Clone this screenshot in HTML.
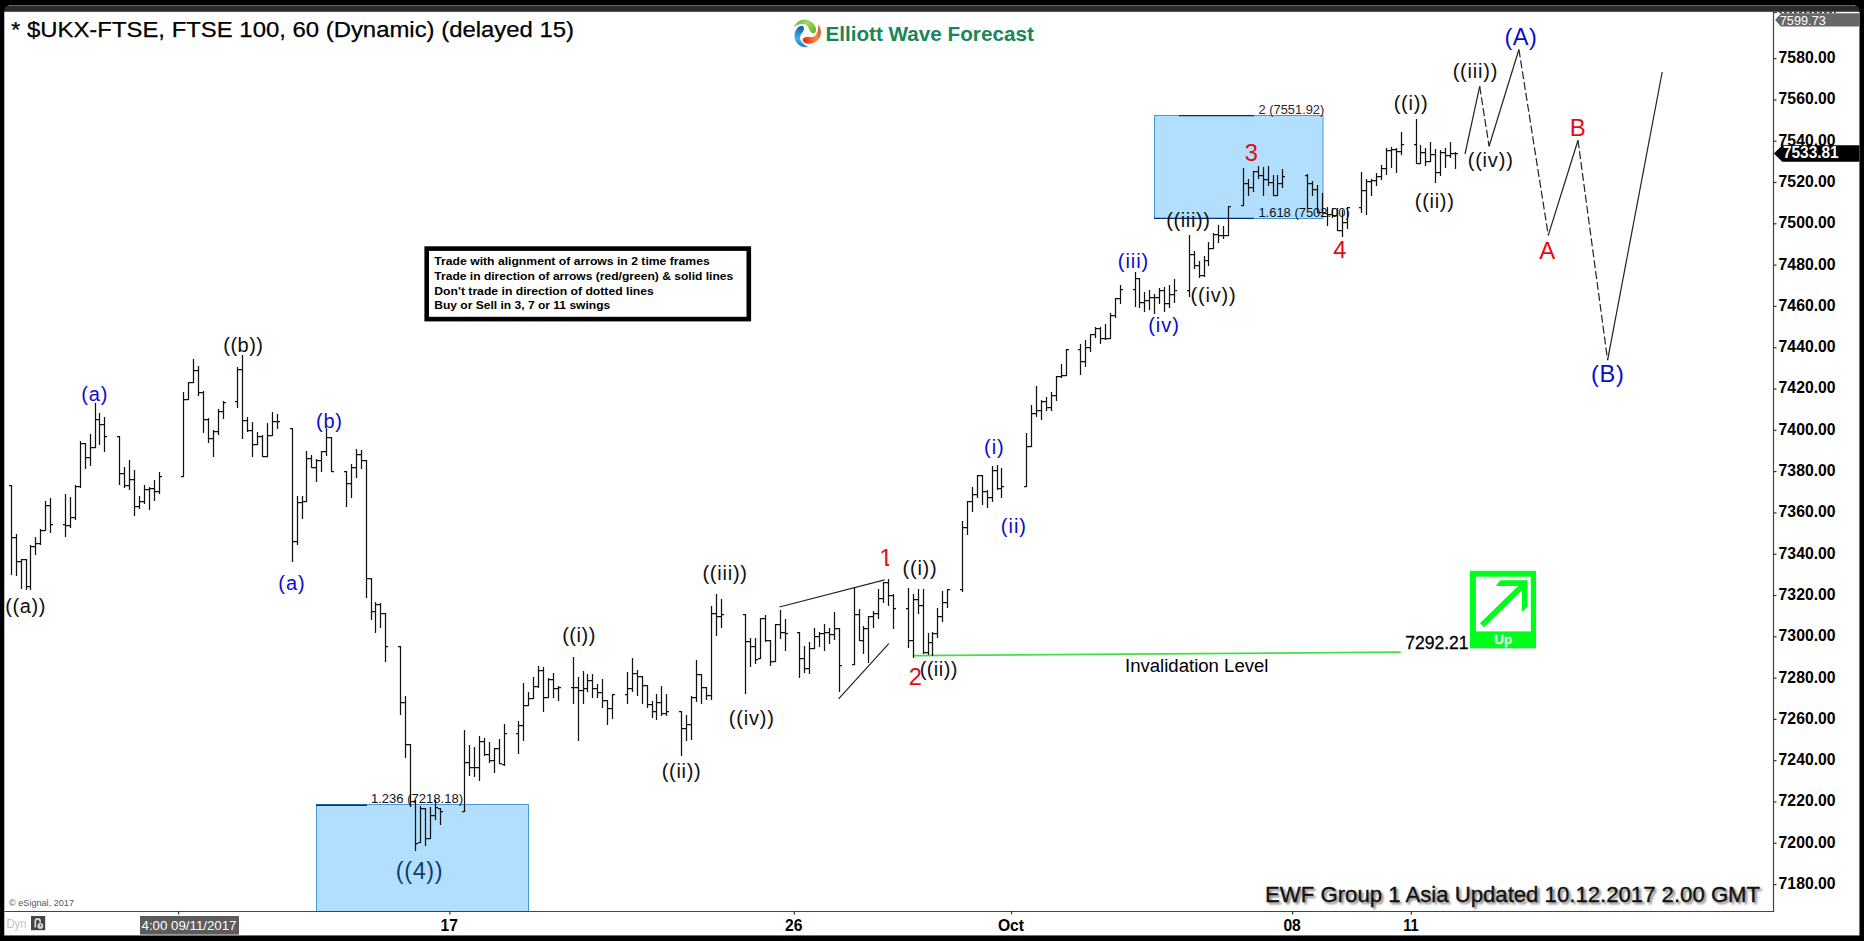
<!DOCTYPE html>
<html><head><meta charset="utf-8"><title>UKX-FTSE Elliott Wave chart</title>
<style>
html,body{margin:0;padding:0;background:#000;overflow:hidden}
svg{display:block;font-family:"Liberation Sans", sans-serif}
</style></head><body>
<svg width="1864" height="941" viewBox="0 0 1864 941">
<rect x="0" y="0" width="1864" height="941" fill="#000"/>
<path d="M4.3 935.4 V10.5 a5.5 5.5 0 0 1 5.5 -5.5 H1854 a5.5 5.5 0 0 1 5.5 5.5 V935.4 Z" fill="#2b2b2b"/>
<path d="M8.5 5.6 H1855.5" stroke="#6a6a6a" stroke-width="1" fill="none"/>
<rect x="4.3" y="11.8" width="1855.1" height="923.6" fill="#fff"/>
<rect x="1154.5" y="115.5" width="168.5" height="103" fill="#b3dffe" stroke="#4a97d6" stroke-width="1"/>
<rect x="316.5" y="804.5" width="212" height="107" fill="#b3dffe" stroke="#4a97d6" stroke-width="1"/>
<path d="M316 805.3 H367" stroke="#003070" stroke-width="1.4"/>
<path d="M1179 115.6 H1254" stroke="#003070" stroke-width="1.4"/>
<path d="M1154 218.3 H1254" stroke="#003070" stroke-width="1.2"/>
<path d="M1773.5 12 V912" stroke="#444" stroke-width="1.2" fill="none"/>
<path d="M4.3 911.5 H1774.1" stroke="#444" stroke-width="1.1" fill="none"/>
<path d="M1773.5 58.6 h3" stroke="#333" stroke-width="1.2"/>
<text x="1778.6" y="63.0" font-size="16.8" fill="#000" font-weight="bold" textLength="57" lengthAdjust="spacingAndGlyphs" >7580.00</text>
<path d="M1773.5 99.9 h3" stroke="#333" stroke-width="1.2"/>
<text x="1778.6" y="104.3" font-size="16.8" fill="#000" font-weight="bold" textLength="57" lengthAdjust="spacingAndGlyphs" >7560.00</text>
<path d="M1773.5 141.2 h3" stroke="#333" stroke-width="1.2"/>
<text x="1778.6" y="145.6" font-size="16.8" fill="#000" font-weight="bold" textLength="57" lengthAdjust="spacingAndGlyphs" >7540.00</text>
<path d="M1773.5 182.5 h3" stroke="#333" stroke-width="1.2"/>
<text x="1778.6" y="186.9" font-size="16.8" fill="#000" font-weight="bold" textLength="57" lengthAdjust="spacingAndGlyphs" >7520.00</text>
<path d="M1773.5 223.8 h3" stroke="#333" stroke-width="1.2"/>
<text x="1778.6" y="228.2" font-size="16.8" fill="#000" font-weight="bold" textLength="57" lengthAdjust="spacingAndGlyphs" >7500.00</text>
<path d="M1773.5 265.1 h3" stroke="#333" stroke-width="1.2"/>
<text x="1778.6" y="269.5" font-size="16.8" fill="#000" font-weight="bold" textLength="57" lengthAdjust="spacingAndGlyphs" >7480.00</text>
<path d="M1773.5 306.4 h3" stroke="#333" stroke-width="1.2"/>
<text x="1778.6" y="310.8" font-size="16.8" fill="#000" font-weight="bold" textLength="57" lengthAdjust="spacingAndGlyphs" >7460.00</text>
<path d="M1773.5 347.7 h3" stroke="#333" stroke-width="1.2"/>
<text x="1778.6" y="352.1" font-size="16.8" fill="#000" font-weight="bold" textLength="57" lengthAdjust="spacingAndGlyphs" >7440.00</text>
<path d="M1773.5 389.0 h3" stroke="#333" stroke-width="1.2"/>
<text x="1778.6" y="393.4" font-size="16.8" fill="#000" font-weight="bold" textLength="57" lengthAdjust="spacingAndGlyphs" >7420.00</text>
<path d="M1773.5 430.3 h3" stroke="#333" stroke-width="1.2"/>
<text x="1778.6" y="434.7" font-size="16.8" fill="#000" font-weight="bold" textLength="57" lengthAdjust="spacingAndGlyphs" >7400.00</text>
<path d="M1773.5 471.6 h3" stroke="#333" stroke-width="1.2"/>
<text x="1778.6" y="476.0" font-size="16.8" fill="#000" font-weight="bold" textLength="57" lengthAdjust="spacingAndGlyphs" >7380.00</text>
<path d="M1773.5 512.9 h3" stroke="#333" stroke-width="1.2"/>
<text x="1778.6" y="517.3" font-size="16.8" fill="#000" font-weight="bold" textLength="57" lengthAdjust="spacingAndGlyphs" >7360.00</text>
<path d="M1773.5 554.2 h3" stroke="#333" stroke-width="1.2"/>
<text x="1778.6" y="558.6" font-size="16.8" fill="#000" font-weight="bold" textLength="57" lengthAdjust="spacingAndGlyphs" >7340.00</text>
<path d="M1773.5 595.5 h3" stroke="#333" stroke-width="1.2"/>
<text x="1778.6" y="599.9" font-size="16.8" fill="#000" font-weight="bold" textLength="57" lengthAdjust="spacingAndGlyphs" >7320.00</text>
<path d="M1773.5 636.8 h3" stroke="#333" stroke-width="1.2"/>
<text x="1778.6" y="641.2" font-size="16.8" fill="#000" font-weight="bold" textLength="57" lengthAdjust="spacingAndGlyphs" >7300.00</text>
<path d="M1773.5 678.1 h3" stroke="#333" stroke-width="1.2"/>
<text x="1778.6" y="682.5" font-size="16.8" fill="#000" font-weight="bold" textLength="57" lengthAdjust="spacingAndGlyphs" >7280.00</text>
<path d="M1773.5 719.4 h3" stroke="#333" stroke-width="1.2"/>
<text x="1778.6" y="723.8" font-size="16.8" fill="#000" font-weight="bold" textLength="57" lengthAdjust="spacingAndGlyphs" >7260.00</text>
<path d="M1773.5 760.7 h3" stroke="#333" stroke-width="1.2"/>
<text x="1778.6" y="765.1" font-size="16.8" fill="#000" font-weight="bold" textLength="57" lengthAdjust="spacingAndGlyphs" >7240.00</text>
<path d="M1773.5 802.0 h3" stroke="#333" stroke-width="1.2"/>
<text x="1778.6" y="806.4" font-size="16.8" fill="#000" font-weight="bold" textLength="57" lengthAdjust="spacingAndGlyphs" >7220.00</text>
<path d="M1773.5 843.3 h3" stroke="#333" stroke-width="1.2"/>
<text x="1778.6" y="847.7" font-size="16.8" fill="#000" font-weight="bold" textLength="57" lengthAdjust="spacingAndGlyphs" >7200.00</text>
<path d="M1773.5 884.6 h3" stroke="#333" stroke-width="1.2"/>
<text x="1778.6" y="889.0" font-size="16.8" fill="#000" font-weight="bold" textLength="57" lengthAdjust="spacingAndGlyphs" >7180.00</text>
<path d="M449.8 911 v3.4" stroke="#333" stroke-width="1.2"/>
<text x="440.6" y="930.6" font-size="16.4" fill="#000" font-weight="bold" textLength="17.4" lengthAdjust="spacingAndGlyphs" >17</text>
<path d="M794.3 911 v3.4" stroke="#333" stroke-width="1.2"/>
<text x="785.1" y="930.6" font-size="16.4" fill="#000" font-weight="bold" textLength="17.4" lengthAdjust="spacingAndGlyphs" >26</text>
<path d="M1011.5 911 v3.4" stroke="#333" stroke-width="1.2"/>
<text x="997.9" y="930.6" font-size="16.4" fill="#000" font-weight="bold" textLength="26.2" lengthAdjust="spacingAndGlyphs" >Oct</text>
<path d="M1292.6 911 v3.4" stroke="#333" stroke-width="1.2"/>
<text x="1283.4" y="930.6" font-size="16.4" fill="#000" font-weight="bold" textLength="17.4" lengthAdjust="spacingAndGlyphs" >08</text>
<path d="M1411.4 911 v3.4" stroke="#333" stroke-width="1.2"/>
<text x="1403.2" y="930.6" font-size="16.4" fill="#000" font-weight="bold" textLength="15.4" lengthAdjust="spacingAndGlyphs" >11</text>
<path d="M178.6 911 v3.4" stroke="#333" stroke-width="1.2"/>
<rect x="140" y="916" width="99" height="18.6" fill="#5c5c5c"/>
<text x="141.5" y="930" font-size="13.5" fill="#fff" textLength="95" lengthAdjust="spacingAndGlyphs" >4:00 09/11/2017</text>
<text x="9" y="906" font-size="8.5" fill="#555" textLength="65" lengthAdjust="spacingAndGlyphs" >© eSignal, 2017</text>
<text x="6.5" y="928" font-size="13" fill="#c4c4c4" textLength="20" lengthAdjust="spacingAndGlyphs" >Dyn</text>
<rect x="31" y="916" width="14.2" height="14.2" fill="#454545"/>
<path d="M35.3 927.5 v-6.2 a2.4 2.4 0 0 1 4.8 0 v1.2" stroke="#d8d8d8" stroke-width="1.7" fill="none"/>
<circle cx="40.3" cy="926" r="2.9" fill="#d8d8d8"/>
<path d="M40.3 924.3 v1.8 h1.5" stroke="#454545" stroke-width="0.8" fill="none"/>
<path d="M1775.2 20 L1781 13.2 H1859.4 V26.6 H1781 Z" fill="#676767"/>
<path d="M1774 12.6 H1836" stroke="#333" stroke-width="1" stroke-dasharray="3 2"/>
<text x="1779.8" y="25.2" font-size="13.2" fill="#fff" textLength="46" lengthAdjust="spacingAndGlyphs" >7599.73</text>
<path d="M1773.9 153.4 L1782.2 145.3 H1859.4 V161.7 H1782.2 Z" fill="#000"/>
<text x="1782.9" y="157.8" font-size="16.6" fill="#fff" font-weight="bold" textLength="55.8" lengthAdjust="spacingAndGlyphs" >7533.81</text>
<text x="11" y="37" font-size="22.6" fill="#000" textLength="563" lengthAdjust="spacingAndGlyphs" stroke="#000" stroke-width="0.25">* $UKX-FTSE, FTSE 100, 60 (Dynamic) (delayed 15)</text>
<defs><linearGradient id="lgG" x1="0" y1="0" x2="1" y2="0.6"><stop offset="0" stop-color="#63ad35"/><stop offset="0.55" stop-color="#9fd862"/><stop offset="1" stop-color="#6cbd38"/></linearGradient><linearGradient id="lgR" x1="0" y1="0" x2="1" y2="0.6"><stop offset="0" stop-color="#c42a1e"/><stop offset="0.5" stop-color="#f78d4c"/><stop offset="1" stop-color="#ef3118"/></linearGradient><linearGradient id="lgB" x1="0" y1="0" x2="1" y2="0.6"><stop offset="0" stop-color="#1b5aa2"/><stop offset="0.5" stop-color="#3cb6ec"/><stop offset="1" stop-color="#1f68b0"/></linearGradient></defs>
<g transform="translate(806.7 33)"><path d="M-13 -5.5 C-11 -10.5 -7 -13.5 -2.5 -13.5 C3 -13.5 7.5 -10 9 -5.5 C10 -2.3 9 0.4 6.8 0.4 C4.6 0.4 3.2 -1.8 2.2 -4.3 C1.1 -7 -0.8 -8.9 -3.6 -8.9 C-7 -8.9 -10 -7.9 -13 -5.5 Z" fill="url(#lgG)"/><path d="M-13 -5.5 C-11 -10.5 -7 -13.5 -2.5 -13.5 C3 -13.5 7.5 -10 9 -5.5 C10 -2.3 9 0.4 6.8 0.4 C4.6 0.4 3.2 -1.8 2.2 -4.3 C1.1 -7 -0.8 -8.9 -3.6 -8.9 C-7 -8.9 -10 -7.9 -13 -5.5 Z" fill="url(#lgR)" transform="rotate(120)"/><path d="M-13 -5.5 C-11 -10.5 -7 -13.5 -2.5 -13.5 C3 -13.5 7.5 -10 9 -5.5 C10 -2.3 9 0.4 6.8 0.4 C4.6 0.4 3.2 -1.8 2.2 -4.3 C1.1 -7 -0.8 -8.9 -3.6 -8.9 C-7 -8.9 -10 -7.9 -13 -5.5 Z" fill="url(#lgB)" transform="rotate(240)"/></g>
<text x="825.4" y="41" font-size="21" fill="#17875b" font-weight="bold" textLength="208.4" lengthAdjust="spacingAndGlyphs" >Elliott Wave Forecast</text>
<rect x="426.7" y="248.6" width="322.1" height="70.5" fill="#fff" stroke="#000" stroke-width="4.6"/>
<text x="434.3" y="265.0" font-size="11.4" fill="#000" font-weight="bold" textLength="275.4" lengthAdjust="spacingAndGlyphs" >Trade with alignment of arrows in 2 time frames</text>
<text x="434.3" y="279.75" font-size="11.4" fill="#000" font-weight="bold" textLength="298.9" lengthAdjust="spacingAndGlyphs" >Trade in direction of arrows (red/green) &amp; solid lines</text>
<text x="434.3" y="294.5" font-size="11.4" fill="#000" font-weight="bold" textLength="219.5" lengthAdjust="spacingAndGlyphs" >Don't trade in direction of dotted lines</text>
<text x="434.3" y="309.25" font-size="11.4" fill="#000" font-weight="bold" textLength="175.9" lengthAdjust="spacingAndGlyphs" >Buy or Sell in 3, 7 or 11 swings</text>
<path d="M912.7 655.7 L1400.7 652.2" stroke="#46de46" stroke-width="1.7" fill="none"/>
<text x="1125" y="672.3" font-size="17.6" fill="#000" textLength="143.5" lengthAdjust="spacingAndGlyphs" >Invalidation Level</text>
<text x="1405.2" y="648.7" font-size="19" fill="#000" textLength="63.4" lengthAdjust="spacingAndGlyphs" stroke="#000" stroke-width="0.3">7292.21</text>
<rect x="1469.9" y="570.8" width="66.2" height="77.5" fill="#00fc1a"/>
<rect x="1475.9" y="576.7" width="54.9" height="54.7" fill="#fff"/>
<path d="M1482 625.3 L1524.5 583.8" stroke="#00fc1a" stroke-width="5.8" fill="none"/>
<path d="M1500.5 580.2 H1527.6 V606.8 L1521.8 612.1 V586 H1495.7 Z" fill="#00fc1a"/>
<text x="1503.2" y="644.3" font-size="13.4" fill="#eaffea" font-weight="bold" text-anchor="middle" stroke="#eaffea" stroke-width="0.3">Up</text>
<text x="1267.2" y="904.4" font-size="22" fill="#8a8a8a" textLength="495" lengthAdjust="spacingAndGlyphs" style="filter:blur(1.1px)" stroke="#8a8a8a" stroke-width="0.6">EWF Group 1 Asia Updated 10.12.2017 2.00 GMT</text>
<text x="1265.1" y="902.2" font-size="22" fill="#111" textLength="495" lengthAdjust="spacingAndGlyphs" stroke="#111" stroke-width="0.35">EWF Group 1 Asia Updated 10.12.2017 2.00 GMT</text>
<text x="1258.6" y="113.6" font-size="12.2" fill="#3a1a22" textLength="65.7" lengthAdjust="spacingAndGlyphs" >2 (7551.92)</text>
<text x="1258.4" y="217.2" font-size="12.2" fill="#111" textLength="91.4" lengthAdjust="spacingAndGlyphs" >1.618 (7502.00)</text>
<text x="370.9" y="802.8" font-size="12.2" fill="#111" textLength="92.1" lengthAdjust="spacingAndGlyphs" >1.236 (7218.18)</text>
<text x="25.64" y="612.55" font-size="20" fill="#111" text-anchor="middle" letter-spacing="0.64">((a))</text>
<text x="94.75" y="400.5" font-size="20" fill="#0c0ccc" text-anchor="middle" letter-spacing="0.9">(a)</text>
<text x="243.41" y="352.4" font-size="20" fill="#111" text-anchor="middle" letter-spacing="0.46">((b))</text>
<text x="329.35" y="427.7" font-size="20" fill="#0c0ccc" text-anchor="middle" letter-spacing="0.7">(b)</text>
<text x="292.05" y="590.0" font-size="20" fill="#0c0ccc" text-anchor="middle" letter-spacing="1.0">(a)</text>
<text x="419.51" y="879.47" font-size="23.5" fill="#0d3d70" text-anchor="middle" letter-spacing="0.63">((4))</text>
<text x="579.0" y="641.5" font-size="20" fill="#111" text-anchor="middle" letter-spacing="0.5">((i))</text>
<text x="681.56" y="777.75" font-size="20" fill="#111" text-anchor="middle" letter-spacing="0.72">((ii))</text>
<text x="725.13" y="580.0" font-size="20" fill="#111" text-anchor="middle" letter-spacing="0.77">((iii))</text>
<text x="751.81" y="724.85" font-size="20" fill="#111" text-anchor="middle" letter-spacing="0.82">((iv))</text>
<clipPath id="cp1"><path d="M879 545 H893 V563.7 H889.1 V568 H885.4 V563.7 H879 Z"/></clipPath>
<text x="885.92" y="565.58" font-size="23.7" fill="#e60a12" text-anchor="middle" clip-path="url(#cp1)">1</text>
<text x="915.3" y="684.8" font-size="23.7" fill="#e60a12" text-anchor="middle" >2</text>
<text x="920.03" y="574.8" font-size="20" fill="#111" text-anchor="middle" letter-spacing="0.75">((i))</text>
<text x="938.78" y="676.4" font-size="20" fill="#111" text-anchor="middle" letter-spacing="0.46">((ii))</text>
<text x="994.36" y="454.05" font-size="20" fill="#0c0ccc" text-anchor="middle" letter-spacing="1.0">(i)</text>
<text x="1013.93" y="533.25" font-size="20" fill="#0c0ccc" text-anchor="middle" letter-spacing="1.0">(ii)</text>
<text x="1133.47" y="267.85" font-size="20" fill="#0c0ccc" text-anchor="middle" letter-spacing="0.95">(iii)</text>
<text x="1164.05" y="332.05" font-size="20" fill="#0c0ccc" text-anchor="middle" letter-spacing="1.0">(iv)</text>
<text x="1188.41" y="227.15" font-size="20" fill="#111" text-anchor="middle" letter-spacing="0.62">((iii))</text>
<text x="1213.49" y="301.85" font-size="20" fill="#111" text-anchor="middle" letter-spacing="0.78">((iv))</text>
<text x="1251.35" y="160.73" font-size="23.7" fill="#e60a12" text-anchor="middle" >3</text>
<text x="1339.85" y="257.52" font-size="23.7" fill="#e60a12" text-anchor="middle" >4</text>
<text x="1411.12" y="110.3" font-size="20" fill="#111" text-anchor="middle" letter-spacing="0.75">((i))</text>
<text x="1434.7" y="208.25" font-size="20" fill="#111" text-anchor="middle" letter-spacing="0.7">((ii))</text>
<text x="1475.39" y="77.7" font-size="20" fill="#111" text-anchor="middle" letter-spacing="0.78">((iii))</text>
<text x="1490.65" y="166.7" font-size="20" fill="#111" text-anchor="middle" letter-spacing="0.8">((iv))</text>
<text x="1520.85" y="44.58" font-size="23.6" fill="#0c0ccc" text-anchor="middle" letter-spacing="0.45">(A)</text>
<text x="1577.78" y="135.82" font-size="24" fill="#e60a12" text-anchor="middle" >B</text>
<text x="1547.25" y="258.75" font-size="24" fill="#e60a12" text-anchor="middle" >A</text>
<text x="1607.8" y="381.92" font-size="23.6" fill="#0c0ccc" text-anchor="middle" letter-spacing="0.7">(B)</text>
<path d="M1465 154 L1479.7 86.4" stroke="#222" stroke-width="1.2" fill="none"/>
<path d="M1479.7 86.4 L1489.1 146.3" stroke="#222" stroke-width="1.2" fill="none" stroke-dasharray="8 3"/>
<path d="M1489.1 146.3 L1518.9 49.5" stroke="#222" stroke-width="1.2" fill="none"/>
<path d="M1518.9 49.5 L1548.3 235.3" stroke="#222" stroke-width="1.2" fill="none" stroke-dasharray="8 3"/>
<path d="M1548.3 235.3 L1578 140.3" stroke="#222" stroke-width="1.2" fill="none"/>
<path d="M1578 140.3 L1607.6 360.2" stroke="#222" stroke-width="1.2" fill="none" stroke-dasharray="8 3"/>
<path d="M1607.6 360.2 L1662.2 72" stroke="#222" stroke-width="1.2" fill="none"/>
<path d="M779.5 607 L884.6 579.9" stroke="#222" stroke-width="1.2"/>
<path d="M838.6 698.9 L888.8 643.6" stroke="#222" stroke-width="1.2"/>
<path d="M11.5 485V575M9.0 485.5h2.5M11.5 537.5h2.5M16.5 534V576M14.0 537.5h2.5M16.5 561.5h2.5M21.5 559V589M19.0 561.5h2.5M21.5 559.5h2.5M26.5 559V590M24.0 559.5h2.5M26.5 586.5h2.5M30.5 545V590M28.0 586.5h2.5M30.5 546.5h2.5M35.5 537V555M33.0 546.5h2.5M35.5 543.5h2.5M40.5 529V545M38.0 543.5h2.5M40.5 530.5h2.5M45.5 501V531M43.0 530.5h2.5M45.5 505.5h2.5M50.5 498V533M48.0 505.5h2.5M50.5 524.5h2.5M65.5 494V537M63.0 524.5h2.5M65.5 525.5h2.5M70.5 497V528M68.0 525.5h2.5M70.5 517.5h2.5M75.5 485V520M73.0 517.5h2.5M75.5 486.5h2.5M80.5 441V488M78.0 486.5h2.5M80.5 443.5h2.5M85.5 443V469M83.0 443.5h2.5M85.5 457.5h2.5M90.5 434V466M88.0 457.5h2.5M90.5 447.5h2.5M95.5 403V448M93.0 447.5h2.5M95.5 419.5h2.5M99.5 413V445M97.0 419.5h2.5M99.5 424.5h2.5M104.5 417V452M102.0 424.5h2.5M104.5 436.5h2.5M119.5 436V485M117.0 436.5h2.5M119.5 473.5h2.5M124.5 467V488M122.0 473.5h2.5M124.5 485.5h2.5M129.5 460V490M127.0 485.5h2.5M129.5 479.5h2.5M134.5 470V516M132.0 479.5h2.5M134.5 506.5h2.5M139.5 496V509M137.0 506.5h2.5M139.5 501.5h2.5M144.5 485V504M142.0 501.5h2.5M144.5 489.5h2.5M149.5 487V510M147.0 489.5h2.5M149.5 488.5h2.5M154.5 480V501M152.0 488.5h2.5M154.5 491.5h2.5M159.5 472V494M157.0 491.5h2.5M159.5 476.5h2.5M183.5 392V477M181.0 476.5h2.5M183.5 399.5h2.5M188.5 382V400M186.0 399.5h2.5M188.5 382.5h2.5M193.5 359V383M191.0 382.5h2.5M193.5 370.5h2.5M198.5 366V396M196.0 370.5h2.5M198.5 392.5h2.5M203.5 391V433M201.0 392.5h2.5M203.5 419.5h2.5M208.5 418V443M206.0 419.5h2.5M208.5 438.5h2.5M213.5 430V457M211.0 438.5h2.5M213.5 431.5h2.5M218.5 409V435M216.0 431.5h2.5M218.5 411.5h2.5M223.5 401V419M221.0 411.5h2.5M223.5 402.5h2.5M237.5 367V408M235.0 401.5h2.5M237.5 369.5h2.5M242.5 355V439M240.0 369.5h2.5M242.5 420.5h2.5M247.5 417V432M245.0 420.5h2.5M247.5 430.5h2.5M252.5 422V457M250.0 430.5h2.5M252.5 444.5h2.5M257.5 432V445M255.0 444.5h2.5M257.5 436.5h2.5M262.5 435V457M260.0 436.5h2.5M262.5 456.5h2.5M267.5 423V457M265.0 456.5h2.5M267.5 435.5h2.5M272.5 412V436M270.0 435.5h2.5M272.5 421.5h2.5M277.5 414V429M275.0 421.5h2.5M277.5 421.5h2.5M292.5 428V562M290.0 428.5h2.5M292.5 541.5h2.5M297.5 496V545M295.0 541.5h2.5M297.5 502.5h2.5M302.5 496V519M300.0 502.5h2.5M302.5 501.5h2.5M306.5 451V502M304.0 501.5h2.5M306.5 458.5h2.5M311.5 455V468M309.0 458.5h2.5M311.5 467.5h2.5M316.5 459V482M314.0 467.5h2.5M316.5 460.5h2.5M321.5 451V472M319.0 460.5h2.5M321.5 451.5h2.5M326.5 428V456M324.0 451.5h2.5M326.5 437.5h2.5M331.5 437V472M329.0 437.5h2.5M331.5 471.5h2.5M346.5 471V507M344.0 471.5h2.5M346.5 483.5h2.5M351.5 464V498M349.0 483.5h2.5M351.5 467.5h2.5M356.5 449V478M354.0 467.5h2.5M356.5 454.5h2.5M361.5 450V469M359.0 454.5h2.5M361.5 460.5h2.5M366.5 460V598M364.0 460.5h2.5M366.5 578.5h2.5M371.5 578V620M369.0 578.5h2.5M371.5 611.5h2.5M375.5 602V633M373.0 611.5h2.5M375.5 604.5h2.5M380.5 603V628M378.0 604.5h2.5M380.5 613.5h2.5M385.5 613V662M383.0 613.5h2.5M385.5 646.5h2.5M400.5 646V715M398.0 646.5h2.5M400.5 702.5h2.5M405.5 696V758M403.0 702.5h2.5M405.5 744.5h2.5M410.5 744V807M408.0 744.5h2.5M410.5 801.5h2.5M415.5 800V851M413.0 801.5h2.5M415.5 843.5h2.5M420.5 806V843M418.0 842.5h2.5M420.5 808.5h2.5M425.5 808V846M423.0 808.5h2.5M425.5 838.5h2.5M430.5 807V839M428.0 838.5h2.5M430.5 815.5h2.5M435.5 800V820M433.0 815.5h2.5M435.5 807.5h2.5M440.5 808V825M438.0 808.5h2.5M440.5 811.5h2.5M464.5 730V812M462.0 811.5h2.5M464.5 762.5h2.5M469.5 745V776M467.0 762.5h2.5M469.5 767.5h2.5M474.5 747V777M472.0 767.5h2.5M474.5 767.5h2.5M479.5 736V781M477.0 767.5h2.5M479.5 741.5h2.5M484.5 738V756M482.0 741.5h2.5M484.5 754.5h2.5M489.5 742V763M487.0 754.5h2.5M489.5 760.5h2.5M494.5 748V773M492.0 760.5h2.5M494.5 748.5h2.5M499.5 739V764M497.0 748.5h2.5M499.5 763.5h2.5M504.5 724V766M502.0 764.5h2.5M504.5 733.5h2.5M518.5 721V754M516.0 733.5h2.5M518.5 725.5h2.5M523.5 683V741M521.0 725.5h2.5M523.5 705.5h2.5M528.5 692V706M526.0 705.5h2.5M528.5 698.5h2.5M533.5 677V699M531.0 698.5h2.5M533.5 686.5h2.5M538.5 666V688M536.0 686.5h2.5M538.5 670.5h2.5M543.5 667V712M541.0 670.5h2.5M543.5 697.5h2.5M548.5 678V698M546.0 697.5h2.5M548.5 679.5h2.5M553.5 673V698M551.0 679.5h2.5M553.5 688.5h2.5M558.5 686V701M556.0 688.5h2.5M558.5 687.5h2.5M573.5 657V704M571.0 687.5h2.5M573.5 687.5h2.5M578.5 677V741M576.0 687.5h2.5M578.5 690.5h2.5M583.5 671V704M581.0 690.5h2.5M583.5 688.5h2.5M587.5 674V692M585.0 688.5h2.5M587.5 680.5h2.5M592.5 674V698M590.0 680.5h2.5M592.5 688.5h2.5M597.5 684V698M595.0 688.5h2.5M597.5 692.5h2.5M602.5 679V708M600.0 692.5h2.5M602.5 700.5h2.5M607.5 700V725M605.0 700.5h2.5M607.5 708.5h2.5M612.5 694V719M610.0 708.5h2.5M612.5 694.5h2.5M627.5 672V704M625.0 694.5h2.5M627.5 688.5h2.5M632.5 658V692M630.0 688.5h2.5M632.5 673.5h2.5M637.5 670V696M635.0 673.5h2.5M637.5 676.5h2.5M642.5 676V704M640.0 676.5h2.5M642.5 685.5h2.5M647.5 685V708M645.0 685.5h2.5M647.5 704.5h2.5M652.5 701V718M650.0 704.5h2.5M652.5 711.5h2.5M656.5 694V720M654.0 711.5h2.5M656.5 702.5h2.5M661.5 686V716M659.0 702.5h2.5M661.5 713.5h2.5M666.5 694V716M664.0 713.5h2.5M666.5 711.5h2.5M681.5 711V756M679.0 711.5h2.5M681.5 728.5h2.5M686.5 715V741M684.0 728.5h2.5M686.5 724.5h2.5M691.5 696V740M689.0 724.5h2.5M691.5 697.5h2.5M696.5 660V702M694.0 697.5h2.5M696.5 674.5h2.5M701.5 674V704M699.0 674.5h2.5M701.5 687.5h2.5M706.5 687V700M704.0 687.5h2.5M706.5 695.5h2.5M711.5 606V700M709.0 695.5h2.5M711.5 613.5h2.5M716.5 594V636M714.0 613.5h2.5M716.5 616.5h2.5M721.5 599V628M719.0 616.5h2.5M721.5 614.5h2.5M745.5 614V694M743.0 614.5h2.5M745.5 641.5h2.5M750.5 638V667M748.0 641.5h2.5M750.5 646.5h2.5M755.5 638V664M753.0 646.5h2.5M755.5 659.5h2.5M760.5 618V659M758.0 658.5h2.5M760.5 618.5h2.5M765.5 615V642M763.0 618.5h2.5M765.5 640.5h2.5M770.5 640V666M768.0 640.5h2.5M770.5 661.5h2.5M775.5 624V662M773.0 661.5h2.5M775.5 624.5h2.5M780.5 610V639M778.0 624.5h2.5M780.5 632.5h2.5M785.5 619V651M783.0 632.5h2.5M785.5 633.5h2.5M799.5 632V678M797.0 632.5h2.5M799.5 658.5h2.5M804.5 646V673M802.0 658.5h2.5M804.5 668.5h2.5M809.5 642V674M807.0 668.5h2.5M809.5 648.5h2.5M814.5 628V649M812.0 648.5h2.5M814.5 636.5h2.5M819.5 632V647M817.0 636.5h2.5M819.5 633.5h2.5M824.5 624V651M822.0 633.5h2.5M824.5 632.5h2.5M829.5 628V644M827.0 632.5h2.5M829.5 634.5h2.5M834.5 612V640M832.0 634.5h2.5M834.5 628.5h2.5M839.5 628V692M837.0 628.5h2.5M839.5 665.5h2.5M854.5 587V665M852.0 664.5h2.5M854.5 614.5h2.5M859.5 609V641M857.0 614.5h2.5M859.5 640.5h2.5M863.5 626V654M861.0 640.5h2.5M863.5 628.5h2.5M868.5 616V663M866.0 628.5h2.5M868.5 616.5h2.5M873.5 611V628M871.0 616.5h2.5M873.5 613.5h2.5M878.5 589V619M876.0 613.5h2.5M878.5 598.5h2.5M883.5 582V603M881.0 598.5h2.5M883.5 582.5h2.5M888.5 579V606M886.0 582.5h2.5M888.5 595.5h2.5M893.5 594V629M891.0 595.5h2.5M893.5 608.5h2.5M908.5 588V648M906.0 608.5h2.5M908.5 640.5h2.5M913.5 594V658M911.0 640.5h2.5M913.5 599.5h2.5M918.5 589V614M916.0 599.5h2.5M918.5 605.5h2.5M923.5 589V654M921.0 605.5h2.5M923.5 652.5h2.5M928.5 633V655M926.0 652.5h2.5M928.5 642.5h2.5M932.5 632V656M930.0 642.5h2.5M932.5 633.5h2.5M937.5 608V638M935.0 633.5h2.5M937.5 616.5h2.5M942.5 591V622M940.0 616.5h2.5M942.5 602.5h2.5M947.5 589V608M945.0 602.5h2.5M947.5 589.5h2.5M962.5 521V592M960.0 589.5h2.5M962.5 527.5h2.5M967.5 501V535M965.0 527.5h2.5M967.5 501.5h2.5M972.5 487V512M970.0 501.5h2.5M972.5 494.5h2.5M977.5 475V498M975.0 494.5h2.5M977.5 475.5h2.5M982.5 475V505M980.0 475.5h2.5M982.5 491.5h2.5M987.5 490V508M985.0 491.5h2.5M987.5 497.5h2.5M992.5 466V502M990.0 497.5h2.5M992.5 470.5h2.5M997.5 465V490M995.0 470.5h2.5M997.5 488.5h2.5M1001.5 468V498M999.0 488.5h2.5M1001.5 486.5h2.5M1026.5 433V487M1024.0 486.5h2.5M1026.5 446.5h2.5M1031.5 405V447M1029.0 446.5h2.5M1031.5 413.5h2.5M1036.5 386V417M1034.0 413.5h2.5M1036.5 410.5h2.5M1041.5 400V420M1039.0 410.5h2.5M1041.5 401.5h2.5M1046.5 397V411M1044.0 401.5h2.5M1046.5 407.5h2.5M1051.5 392V411M1049.0 407.5h2.5M1051.5 395.5h2.5M1056.5 376V401M1054.0 395.5h2.5M1056.5 376.5h2.5M1061.5 364V378M1059.0 376.5h2.5M1061.5 375.5h2.5M1066.5 349V376M1064.0 375.5h2.5M1066.5 349.5h2.5M1080.5 344V375M1078.0 349.5h2.5M1080.5 361.5h2.5M1085.5 340V367M1083.0 361.5h2.5M1085.5 347.5h2.5M1090.5 334V352M1088.0 347.5h2.5M1090.5 334.5h2.5M1095.5 327V338M1093.0 334.5h2.5M1095.5 328.5h2.5M1100.5 327V344M1098.0 328.5h2.5M1100.5 338.5h2.5M1105.5 324V340M1103.0 338.5h2.5M1105.5 338.5h2.5M1110.5 313V339M1108.0 338.5h2.5M1110.5 315.5h2.5M1115.5 298V318M1113.0 315.5h2.5M1115.5 298.5h2.5M1120.5 285V304M1118.0 298.5h2.5M1120.5 289.5h2.5M1135.5 272V307M1133.0 289.5h2.5M1135.5 278.5h2.5M1139.5 278V308M1137.0 278.5h2.5M1139.5 302.5h2.5M1144.5 292V312M1142.0 302.5h2.5M1144.5 300.5h2.5M1149.5 290V310M1147.0 300.5h2.5M1149.5 297.5h2.5M1154.5 294V314M1152.0 297.5h2.5M1154.5 297.5h2.5M1159.5 288V304M1157.0 297.5h2.5M1159.5 290.5h2.5M1164.5 287V312M1162.0 290.5h2.5M1164.5 303.5h2.5M1169.5 285V308M1167.0 303.5h2.5M1169.5 294.5h2.5M1174.5 279V303M1172.0 294.5h2.5M1174.5 290.5h2.5M1189.5 235V297M1187.0 290.5h2.5M1189.5 254.5h2.5M1194.5 251V269M1192.0 254.5h2.5M1194.5 265.5h2.5M1199.5 261V278M1197.0 265.5h2.5M1199.5 275.5h2.5M1204.5 256V277M1202.0 275.5h2.5M1204.5 260.5h2.5M1208.5 242V266M1206.0 260.5h2.5M1208.5 248.5h2.5M1213.5 233V249M1211.0 248.5h2.5M1213.5 234.5h2.5M1218.5 225V243M1216.0 234.5h2.5M1218.5 235.5h2.5M1223.5 226V239M1221.0 235.5h2.5M1223.5 235.5h2.5M1228.5 206V236M1226.0 235.5h2.5M1228.5 206.5h2.5M1243.5 168V206M1241.0 205.5h2.5M1243.5 183.5h2.5M1248.5 179V196M1246.0 183.5h2.5M1248.5 187.5h2.5M1253.5 171V192M1251.0 187.5h2.5M1253.5 171.5h2.5M1258.5 166V179M1256.0 171.5h2.5M1258.5 175.5h2.5M1263.5 167V196M1261.0 175.5h2.5M1263.5 179.5h2.5M1268.5 166V186M1266.0 179.5h2.5M1268.5 182.5h2.5M1273.5 175V196M1271.0 182.5h2.5M1273.5 195.5h2.5M1277.5 175V196M1275.0 195.5h2.5M1277.5 183.5h2.5M1282.5 169V188M1280.0 183.5h2.5M1282.5 176.5h2.5M1307.5 174V208M1305.0 175.5h2.5M1307.5 183.5h2.5M1312.5 181V196M1310.0 183.5h2.5M1312.5 189.5h2.5M1317.5 185V213M1315.0 189.5h2.5M1317.5 212.5h2.5M1322.5 193V213M1320.0 212.5h2.5M1322.5 212.5h2.5M1327.5 207V226M1325.0 213.5h2.5M1327.5 214.5h2.5M1332.5 208V218M1330.0 214.5h2.5M1332.5 215.5h2.5M1337.5 208V231M1335.0 215.5h2.5M1337.5 230.5h2.5M1342.5 210V237M1340.0 230.5h2.5M1342.5 222.5h2.5M1347.5 207V229M1345.0 222.5h2.5M1347.5 207.5h2.5M1361.5 172V213M1359.0 207.5h2.5M1361.5 190.5h2.5M1366.5 179V215M1364.0 190.5h2.5M1366.5 181.5h2.5M1371.5 179V196M1369.0 181.5h2.5M1371.5 180.5h2.5M1376.5 173V186M1374.0 180.5h2.5M1376.5 176.5h2.5M1381.5 165V180M1379.0 176.5h2.5M1381.5 168.5h2.5M1386.5 148V175M1384.0 168.5h2.5M1386.5 150.5h2.5M1391.5 147V168M1389.0 150.5h2.5M1391.5 149.5h2.5M1396.5 148V173M1394.0 149.5h2.5M1396.5 151.5h2.5M1401.5 132V155M1399.0 151.5h2.5M1401.5 144.5h2.5M1416.5 119V164M1414.0 144.5h2.5M1416.5 163.5h2.5M1420.5 145V164M1418.0 163.5h2.5M1420.5 152.5h2.5M1425.5 148V166M1423.0 152.5h2.5M1425.5 161.5h2.5M1430.5 142V162M1428.0 161.5h2.5M1430.5 154.5h2.5M1435.5 149V183M1433.0 154.5h2.5M1435.5 172.5h2.5M1440.5 150V176M1438.0 172.5h2.5M1440.5 152.5h2.5M1445.5 148V168M1443.0 152.5h2.5M1445.5 155.5h2.5M1450.5 142V158M1448.0 155.5h2.5M1450.5 153.5h2.5M1455.5 152V169M1453.0 153.5h2.5M1455.5 153.5h2.5" stroke="#111" stroke-width="1.25" fill="none"/>
</svg>
</body></html>
